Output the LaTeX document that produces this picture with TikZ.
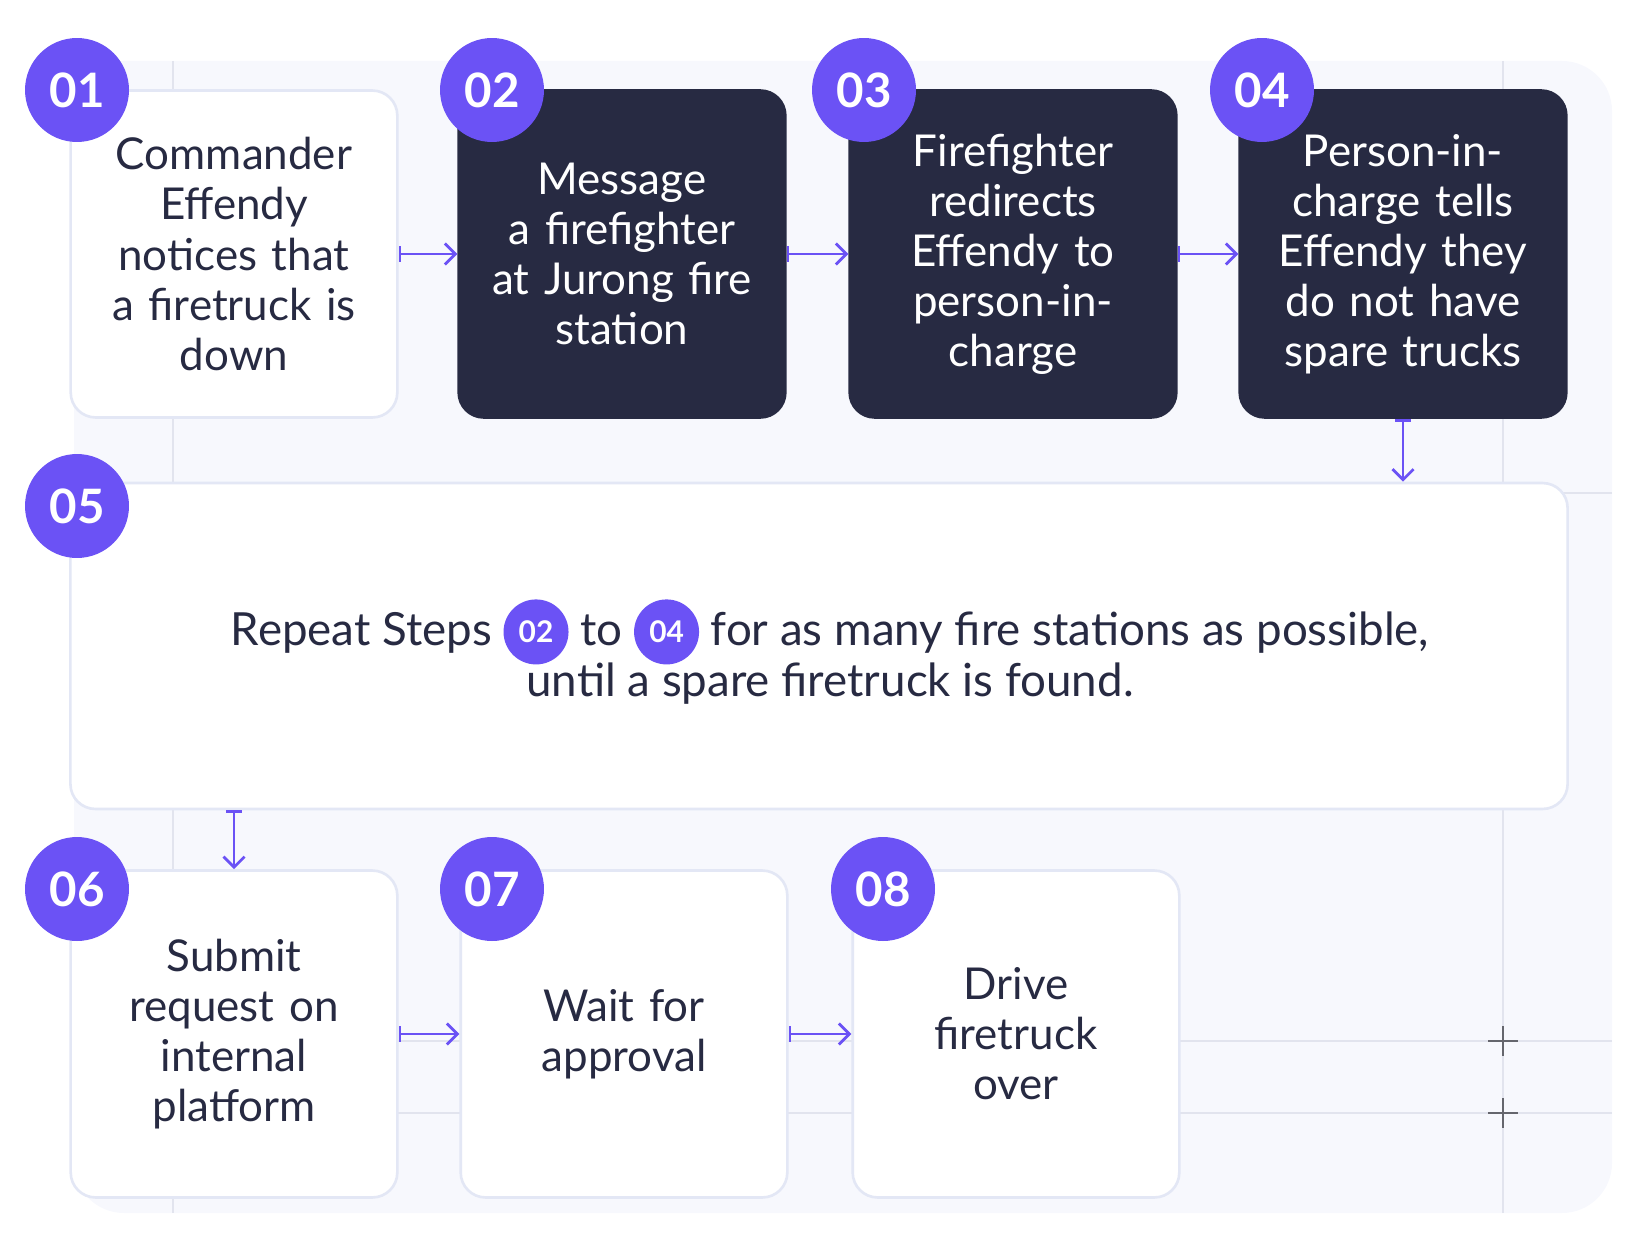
\documentclass[tikz,border=0pt]{standalone}
\usepackage{fontspec}
\setmainfont{Lato}
\usetikzlibrary{arrows.meta}
\definecolor{purp}{HTML}{6B52F5}
\definecolor{navy}{HTML}{272A42}
\definecolor{edge}{HTML}{E3E7F5}
\definecolor{bgc}{HTML}{F7F8FD}
\definecolor{grid}{HTML}{E2E4EE}
\tikzset{
  card/.style={rectangle, rounded corners=0.5cm, minimum width=6.52cm, minimum height=6.54cm, draw=edge, line width=1.5pt, fill=white, text=navy, align=center, font=\fontsize{25}{28.5}\selectfont, text width=6.3cm},
  dark/.style={card, fill=navy, draw=navy, text=white},
  num/.style={circle, fill=purp, text=white, minimum size=2.08cm, inner sep=0pt, font=\fontsize{27}{27}\selectfont\bfseries},
  arrow/.style={draw=purp, line width=1.6pt, {Bar[width=9pt]}-{Straight Barb[length=6pt,width=12pt]}}
}
\newcommand{\badge}[1]{\tikz[baseline=-0.6ex]\node[circle, fill=purp, text=white, minimum size=1.3cm, inner sep=0pt, font=\fontsize{17}{17}\selectfont\bfseries]{#1};}
\begin{document}
\begin{tikzpicture}[x=0.02cm, y=-0.02cm]
\useasboundingbox (0,0) rectangle (1638,1250);
% background and grid
\fill[bgc, rounded corners=1cm] (74,61) rectangle (1612,1213);
\foreach \gx in {173,1503} \draw[grid, line width=1pt] (\gx,61) -- (\gx,1213);
\foreach \gy in {493,1041,1113} \draw[grid, line width=1pt] (74,\gy) -- (1612,\gy);
\foreach \gy in {1041,1113} \draw[gray!70!navy, line width=1.5pt] (1488,\gy) -- (1518,\gy) (1503,\gy-15) -- (1503,\gy+15);

% row 1
\node(s1)[card] at (234,254) {Commander\\Effendy\\notices that\\a firetruck is\\down};
\node(s2)[dark] at (622,254) {Message\\a firefighter\\at Jurong fire\\station};
\node(s3)[dark] at (1013,254) {Firefighter\\redirects\\Effendy to\\person-in-\\charge};
\node(s4)[dark] at (1403,254) {Person-in-\\charge tells\\Effendy they\\do not have\\spare trucks};
% row 2
\node(s5)[card, minimum width=29.95cm, minimum height=6.52cm, text width=28cm] at (819,646) {};
\node(rep)[text=navy, align=center, font=\fontsize{26}{31}\selectfont] at (830,652)
  {Repeat Steps \badge{02} to \badge{04} for as many fire stations as possible,\\[-2pt] until a spare firetruck is found.};
% row 3
\node(s6)[card] at (234,1034) {Submit\\request on\\internal\\platform};
\node(s7)[card] at (624,1034) {Wait for\\approval};
\node(s8)[card] at (1016,1034) {Drive\\firetruck\\over};

% numbers
\node(n1)[num] at (77,90) {01};
\node(n2)[num] at (492,90) {02};
\node(n3)[num] at (864,90) {03};
\node(n4)[num] at (1262,90) {04};
\node(n5)[num] at (77,506) {05};
\node(n6)[num] at (77,889) {06};
\node(n7)[num] at (492,889) {07};
\node(n8)[num] at (883,889) {08};

% connectors
\draw[arrow] (s1.east) -- (s2.west);
\draw[arrow] (s2.east) -- (s3.west);
\draw[arrow] (s3.east) -- (s4.west);
\draw[arrow] (s4.south) -- (s4.south |- s5.north);
\draw[arrow] (s6.north |- s5.south) -- (s6.north);
\draw[arrow] (s6.east) -- (s7.west);
\draw[arrow] (s7.east) -- (s8.west);
\end{tikzpicture}
\end{document}
